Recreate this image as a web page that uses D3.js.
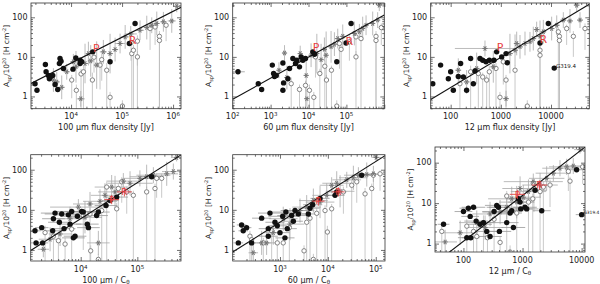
<!DOCTYPE html>
<html>
<head>
<meta charset="utf-8">
<script src="https://cdn.jsdelivr.net/npm/d3@7/dist/d3.min.js"></script>
<style>
  body { margin: 0; background: #fff; }
  text { font-family: "DejaVu Sans", sans-serif; fill: #222; }
</style>
</head>
<body>
<svg id="fig" width="600" height="284"></svg>
<script>
// data [[[1
// filled = [x, y, dxDex], open = [x, y, lo, hi], stars = [x, y, dxDex, dyDex]
const p1Filled = [[1970,2.1,0],[2150,1.43,0],[3140,6.4,0],[3240,4.2,0],[3600,3.4,0],[3760,2.8,0],[3990,3.2,0],[4380,3.4,0],[4860,2.0,0],[5480,1.5,0],[5910,6.8,0],[6080,9.1,0],[6370,7.8,0],[7080,5.1,0],[10900,4.9,0],[12400,9.4,0],[15000,6.8,0],[15000,8.2,0],[16200,7.5,0],[26600,13.4,0],[58200,7.5,0],[139000,21.8,0],[180000,70,0]]
const p1Open = [[10300,2.6,0.9,3.5],[12700,1.43,0.3,2],[15700,3.7,0.3,5],[17500,4.2,0.3,6],[26200,2.6,0.3,4],[28200,9.8,4,14],[37000,6.2,1.5,9],[39900,8.5,2.5,12],[50000,4.6,0.3,7],[58200,0.95,0.3,1.3],[101600,0.57,0.3,0.8],[155000,12.1,0.3,16],[167000,14.7,0.3,20],[200000,10,0.3,14],[200000,25,6,35],[354000,52,15,70],[444000,57,20,75],[540000,33,0.3,45],[540000,26,0.3,40],[730000,63,25,80],[150000,23,8,30]]
const p1Stars = [[5240,2.33,0.06,0.25],[6560,1.7,0.06,0.3],[8220,4.2,0.06,0.2],[11100,7.5,0.06,0.2],[15500,0.87,0.08,0.2],[18800,6.8,0.06,0.5],[21900,12.1,0.05,0.3],[24300,7.9,0.06,0.4],[31800,6.2,0.06,0.6],[43000,13.4,0.07,0.3],[58200,12.1,0.06,0.5],[73000,15.3,0.06,0.3],[91400,21.8,0.1,0.25],[115000,32,0.08,0.3],[148000,38,0.12,0.2],[225000,47,0.08,0.25],[305000,55,0.06,0.3],[382000,63,0.06,0.2],[479000,70,0.06,0.3],[646000,77,0.06,0.25],[942000,81,0.08,0.3],[1180000,190,0.06,0.15],[12500,5.6,0.06,0.4],[4510,2.6,0.05,0.3]]
const p1Red = [[31400,16.3],[160000,26]]

const p2Filled = [[138,4.2,0.18],[473,2.1,0],[580,1.5,0],[1110,6.2,0],[1200,3.8,0],[1270,3.2,0],[1410,3.4,0],[2110,7.0,0],[2200,2.2,0],[2110,1.43,0],[2860,2.8,0],[3160,5.1,0],[3870,9.1,0],[4550,6.8,0],[4930,8.2,0],[5790,5.6,0],[6410,10,0],[7100,8.2,0],[8340,9.1,0],[13000,13.4,0],[14400,11.7,0],[55700,7.5,0],[98000,22.5,0],[133000,70,0]]
const p2Open = [[3500,2.1,0.3,3],[5790,1.5,0.3,2],[8340,1.9,0.3,2.5],[10600,1.43,0.3,2],[15300,10,3,14],[13800,0.95,0.3,1.3],[19900,3.8,0.3,5],[26900,5.8,0.3,8],[29800,2.6,0.3,3.5],[40300,4.6,0.3,6],[55700,0.57,0.3,0.8],[65500,21.8,5,30],[72500,15.5,0.3,20],[120000,24,8,35],[179000,32,10,45],[243000,29,0.3,40],[179000,10,0.3,14],[604000,33,0.3,45],[604000,26,0.3,35],[834000,55,20,70]]
const p2Stars = [[1660,4.6,0.06,0.2],[2690,3.0,0.06,0.3],[6040,12.1,0.06,0.2],[8690,3.4,0.06,0.4],[9040,0.88,0.06,0.2],[11700,11,0.06,0.3],[16600,12.1,0.06,0.5],[21500,8.5,0.06,0.4],[26300,15.5,0.06,0.3],[29200,11,0.06,0.6],[39400,17.9,0.07,0.4],[48300,21,0.08,0.3],[59100,29,0.08,0.25],[80100,33,0.06,0.3],[162000,39,0.06,0.3],[220000,43,0.06,0.2],[269000,52,0.06,0.3],[330000,63,0.06,0.25],[494000,70,0.06,0.3],[668000,85,0.06,0.2],[738000,203,0.06,0.15],[2330,12.5,0.06,0.2]]
const p2Red = [[15900,17.9],[120000,25]]

const p3Filled = [[44,2.1,0],[63,6.2,0],[90,2.8,0],[100,4.2,0],[113,1.43,0],[142,3.2,0],[158,6.8,0],[179,3.1,0],[208,1.43,0],[250,9.1,0],[283,2.1,0],[306,4.4,0],[384,9.1,0],[435,8.2,0],[506,7.5,0],[590,8.2,0],[731,8.2,0],[826,13.4,0],[1040,10,0],[1270,12.1,0],[1350,7.1,0],[6040,22.5,0],[8850,70,0],[11600,5.2,0]]
const p3Open = [[153,2.1,0.3,3],[250,4.2,0.3,6],[356,3.8,0.3,5],[435,3.1,0.3,4],[522,2.6,0.3,3.5],[590,4.2,0.3,6],[961,0.95,0.3,1.3],[801,5.1,0.3,7],[1120,7.5,2,10],[1270,2.6,0.3,3.5],[1920,4.6,0.3,6],[3370,0.57,0.3,0.8],[6040,14.7,0.3,20],[6040,11,0.3,15],[14700,33,0.3,45],[14700,26,0.3,35],[27900,33,10,45],[47600,52,15,70],[20500,52,20,65],[14000,43,0.3,55]]
const p3Stars = [[142,4.6,0.06,0.3],[208,2.33,0.06,0.3],[330,5.1,0.06,0.4],[483,16.3,0.6,0.2],[708,5.6,0.06,0.4],[1270,0.88,0.06,0.2],[1520,12.1,0.06,0.5],[1920,14.7,0.06,0.4],[2410,17.9,0.06,0.3],[3030,21.8,0.06,0.3],[3810,24,0.06,0.25],[4440,29,0.06,0.3],[5180,49,0.06,0.2],[7030,43,0.06,0.3],[10300,52,0.06,0.3],[13000,63,0.06,0.25],[17600,85,0.06,0.2],[23900,81,0.06,0.3],[37900,85,0.06,0.2],[32500,203,0.06,0.15],[2070,21.8,0.06,0.3],[6040,33,0.06,0.4]]
const p3Red = [[961,17.9],[7030,28]]

const p4Filled = [[1560,3.0,0.1],[1630,1.5,0.1],[2050,3.6,0.12],[2130,1.5,0.1],[3300,6.0,0.2],[3520,8.3,0.25],[3200,3.0,0.15],[4200,4.9,0.2],[4620,7.9,0.3],[5080,3.4,0.2],[6050,7.5,0.25],[6480,4.4,0.2],[6930,9.1,0.3],[7430,2.0,0.2],[7950,2.2,0.2],[8740,6.9,0.25],[10400,9.1,0.3],[11100,8.8,0.25],[13100,4.4,0.2],[13700,3.6,0.2],[19100,7.2,0.2],[20500,8.8,0.2],[28000,12.8,0.2],[43200,20.8,0.2],[179000,67,0.2],[33000,17,0.15]]
const p4Open = [[2350,2.7,0.3,4],[3300,2.2,0.3,3],[4040,1.7,0.3,2.5],[5300,1.4,0.3,2],[6930,3.3,0.3,5],[11100,7.2,1,10],[14600,7.9,0.3,11],[15000,0.95,0.3,1.3],[20500,0.58,0.3,0.8],[23500,9.6,0.3,13],[28800,37,0.3,50],[43200,10.6,0.3,15],[46200,34,10,45],[53000,50,15,65],[85000,23,0.3,30],[146000,28,0.3,38],[205000,34,0.3,45],[269000,61,20,80],[219000,61,20,80],[64900,28,8,38]]
const p4Stars = [[2190,1.04,0.1,0.2],[2880,1.85,0.2,0.3],[4320,2.5,0.2,0.3],[6480,6.0,0.3,0.3],[9100,11.7,0.5,0.2],[11900,6.5,0.3,0.4],[14600,14,0.3,0.3],[21900,16.3,0.3,0.3],[26800,23,0.25,0.3],[35200,37,0.3,0.3],[40400,28,0.3,0.4],[56600,52,0.3,0.2],[74300,46,0.4,0.3],[111000,61,0.3,0.2],[146000,67,0.3,0.3],[192000,73,0.3,0.2],[330000,79,0.2,0.3],[432000,90,0.2,0.2],[494000,203,0.1,0.1],[20500,1.5,0.2,0.3]]
const p4Red = [[35200,18],[59000,28]]

const p5Filled = [[135,1.5,0.1],[158,4.2,0.1],[171,3.0,0.1],[201,3.6,0.1],[256,1.5,0.1],[414,6.2,0.2],[570,3.4,0.2],[570,2.2,0.2],[618,8.3,0.25],[786,4.9,0.2],[879,4.0,0.2],[1000,2.7,0.2],[1140,6.9,0.3],[1270,2.0,0.2],[1330,8.8,0.3],[1420,3.4,0.2],[1750,7.2,0.3],[1900,5.2,0.2],[2060,9.6,0.3],[2420,7.9,0.25],[3910,7.9,0.2],[4240,11,0.2],[4820,13.4,0.2],[6860,19.3,0.2],[14100,23,0.2],[15300,28,0.2],[50900,73,0.2]]
const p5Open = [[236,2.2,0.3,3],[256,1.8,0.3,2.5],[449,1.5,0.3,2],[670,3.0,0.3,4],[879,1.5,0.3,2],[1170,1.5,0.3,2],[1570,3.6,0.3,5],[3180,0.95,0.3,1.3],[3610,4.9,0.3,7],[4240,6.2,0.3,8],[4980,0.58,0.3,0.8],[5850,8.2,0.3,11],[8730,9.6,0.3,13],[9770,2.8,0.3,4],[12000,10.6,0.3,14],[21100,28,8,38],[31500,41,0.3,55],[40100,50,15,65],[59800,25,0.3,35],[82400,34,0.3,45],[89300,73,30,90],[123000,79,30,95]]
const p5Stars = [[277,0.85,0.1,0.2],[414,1.5,0.2,0.3],[726,2.7,0.2,0.3],[1170,6.0,0.3,0.3],[1620,4.4,0.3,0.4],[2620,9.6,0.3,0.3],[3610,11.7,0.3,0.3],[4980,17,0.3,0.3],[6860,15.6,0.3,0.4],[9460,23,0.3,0.3],[12000,41,0.25,0.2],[15300,46,0.3,0.3],[18000,29,0.3,0.4],[24800,56,0.3,0.2],[34100,63,0.3,0.3],[43400,73,0.3,0.2],[64900,76,0.25,0.3],[89300,79,0.2,0.2],[102000,203,0.1,0.1],[526,1.5,0.2,0.3]]
const p5Red = [[6320,16.5],[16600,28]]

const p6Filled = [[46,3.0,0.1],[100,6.2,0.15],[121,7.5,0.15],[130,4.7,0.15],[148,7.9,0.2],[114,1.4,0.15],[133,1.4,0.15],[164,3.6,0.2],[191,3.0,0.2],[218,3.3,0.2],[248,2.0,0.2],[282,1.5,0.2],[330,6.2,0.2],[366,8.8,0.2],[391,7.9,0.2],[406,2.0,0.2],[540,3.3,0.2],[615,5.7,0.2],[656,6.5,0.2],[700,2.5,0.2],[851,12.8,0.2],[908,10.6,0.2],[931,7.2,0.2],[1100,7.9,0.2],[1175,7.2,0.2],[2110,6.5,0.15],[1630,20.8,0.2],[8220,67,0.2],[10000,5.2,0.1]]
const p6Open = [[43,2.0,0.3,3],[114,2.7,0.3,4],[148,2.0,0.3,3],[168,1.5,0.3,2],[218,3.3,0.3,5],[255,1.4,0.3,2],[330,4.0,0.3,6],[417,1.07,0.3,1.5],[540,15,0.3,20],[615,0.62,0.3,0.9],[797,5.7,0.3,8],[1260,10.6,0.3,14],[1490,12.8,0.3,17],[1560,23,6,30],[1520,31,10,40],[2250,25,0.3,34],[2920,28,8,38],[5960,61,20,80],[6360,35,0.3,45],[10400,79,30,95],[1980,19.3,0.3,26]]
const p6Stars = [[49,1.1,0.2,0.3],[88,1.85,0.3,0.3],[168,3.3,0.3,0.3],[232,2.5,0.3,0.3],[282,5.4,0.3,0.3],[417,6.0,0.3,0.3],[540,7.9,0.3,0.3],[656,12.8,0.4,0.3],[797,10.6,0.3,0.4],[1030,14,0.3,0.3],[1260,19.3,0.3,0.3],[1520,34,0.5,0.2],[1980,28,0.3,0.3],[2560,41,0.3,0.3],[3320,55,0.3,0.2],[4300,73,0.3,0.2],[5580,79,0.3,0.2],[7220,83,0.2,0.2],[9370,210,0.1,0.1],[908,23,0.3,0.3]]
const p6Red = [[818,16.5],[1930,28]]

// fitted lines: log y = a + b log x
const fitA = [-1.773, -1.135, -1.30, -2.81, -1.574, -2.204]
const fitB = [0.654, 0.5325, 0.762, 0.8975, 0.756, 1.131]

const redLabels = ['P', 'R']
const yTicks = [1, 10, 100]
const xTicks = [[1e4, 1e5, 1e6], [1e2, 1e3, 1e4, 1e5], [100, 1000, 10000], [1e4, 1e5], [1e3, 1e4, 1e5], [100, 1000, 10000]]
const xTitles = ['100', '60', '12', '100', '60', '12']
const noteName = 'G319.4'

// layout [[[1
const panels = [
  { box: [31, 3, 150, 105.7], xDom: [1640, 1.43e6], yDom: [0.49, 230], pow: true, ratio: false, filled: p1Filled, open: p1Open, stars: p1Stars, red: p1Red },
  { box: [232.7, 3, 151.6, 105.7], xDom: [100, 1e6], yDom: [0.49, 230], pow: true, ratio: false, filled: p2Filled, open: p2Open, stars: p2Stars, red: p2Red },
  { box: [430.7, 3, 158.6, 105.7], xDom: [40, 58000], yDom: [0.49, 230], pow: false, ratio: false, filled: p3Filled, open: p3Open, stars: p3Stars, red: p3Red, note: 23, noteSize: 5.5 },
  { box: [30.7, 154.7, 150.3, 106.3], xDom: [1310, 5.9e5], yDom: [0.53, 237], pow: true, ratio: true, filled: p4Filled, open: p4Open, stars: p4Stars, red: p4Red },
  { box: [232.7, 154.7, 152.3, 106.3], xDom: [103, 1.56e5], yDom: [0.53, 237], pow: true, ratio: true, filled: p5Filled, open: p5Open, stars: p5Stars, red: p5Red },
  { box: [435, 147, 150, 105], xDom: [33, 11400], yDom: [0.62, 244], pow: false, ratio: true, filled: p6Filled, open: p6Open, stars: p6Stars, red: p6Red, note: 28, noteSize: 4.4 }
]

const svg = d3.select('#fig')
const defs = svg.append('defs')
const isPow = v => Math.abs(Math.log10(v) - Math.round(Math.log10(v))) < 1e-9

panels.forEach((p, i) => {
  const [bx, by, bw, bh] = p.box
  const x = d3.scaleLog().domain(p.xDom).range([bx, bx + bw])
  const y = d3.scaleLog().domain(p.yDom).range([by + bh, by])
  const g = svg.append('g')

  defs.append('clipPath').attr('id', 'clip' + i)
    .append('rect').attr('x', bx).attr('y', by).attr('width', bw).attr('height', bh)
  const plot = g.append('g').attr('clip-path', `url(#clip${i})`)

  // error bars
  plot.selectAll('.eo').data(p.open).enter().append('line')
    .attr('x1', d => x(d[0])).attr('x2', d => x(d[0]))
    .attr('y1', d => y(d[2])).attr('y2', d => y(d[3]))
    .attr('stroke', '#bbb').attr('stroke-width', 0.8)
  plot.selectAll('.esh').data(p.stars).enter().append('line')
    .attr('x1', d => x(d[0] * Math.pow(10, -d[2]))).attr('x2', d => x(d[0] * Math.pow(10, d[2])))
    .attr('y1', d => y(d[1])).attr('y2', d => y(d[1]))
    .attr('stroke', '#aaa').attr('stroke-width', 0.8)
  plot.selectAll('.esv').data(p.stars).enter().append('line')
    .attr('x1', d => x(d[0])).attr('x2', d => x(d[0]))
    .attr('y1', d => y(d[1] * Math.pow(10, -d[3]))).attr('y2', d => y(d[1] * Math.pow(10, d[3])))
    .attr('stroke', '#aaa').attr('stroke-width', 0.8)
  plot.selectAll('.ef').data(p.filled.filter(d => d[2] > 0)).enter().append('line')
    .attr('x1', d => x(d[0] * Math.pow(10, -d[2]))).attr('x2', d => x(d[0] * Math.pow(10, d[2])))
    .attr('y1', d => y(d[1])).attr('y2', d => y(d[1]))
    .attr('stroke', '#999').attr('stroke-width', 0.8)

  // open circles
  plot.selectAll('.oc').data(p.open).enter().append('circle')
    .attr('cx', d => x(d[0])).attr('cy', d => y(d[1])).attr('r', 2.2)
    .attr('fill', '#fff').attr('stroke', '#777').attr('stroke-width', 0.9)

  // stars (asterisks)
  const star = plot.selectAll('.st').data(p.stars).enter().append('g')
    .attr('transform', d => `translate(${x(d[0])},${y(d[1])})`)
  ;[0, 60, 120].forEach(a => {
    star.append('line').attr('x1', -2.6).attr('x2', 2.6).attr('y1', 0).attr('y2', 0)
      .attr('transform', `rotate(${a})`).attr('stroke', '#777').attr('stroke-width', 1)
  })

  // filled circles
  plot.selectAll('.fc').data(p.filled).enter().append('circle')
    .attr('cx', d => x(d[0])).attr('cy', d => y(d[1])).attr('r', 2.7)
    .attr('fill', '#111')

  // fit line
  const lx = p.xDom
  plot.append('line')
    .attr('x1', x(lx[0])).attr('y1', y(Math.pow(10, fitA[i] + fitB[i] * Math.log10(lx[0]))))
    .attr('x2', x(lx[1])).attr('y2', y(Math.pow(10, fitA[i] + fitB[i] * Math.log10(lx[1]))))
    .attr('stroke', '#111').attr('stroke-width', 1.1)

  // red P / R
  if (p.ratio) {
    plot.selectAll('.rh').data(p.red).enter().append('line')
      .attr('x1', d => x(d[0] / 1.35)).attr('x2', d => x(d[0] * 1.35))
      .attr('y1', d => y(d[1])).attr('y2', d => y(d[1]))
      .attr('stroke', '#e04040').attr('stroke-width', 0.9)
    plot.selectAll('.rv').data(p.red).enter().append('line')
      .attr('x1', d => x(d[0])).attr('x2', d => x(d[0]))
      .attr('y1', d => y(d[1] / 1.3)).attr('y2', d => y(d[1] * 1.3))
      .attr('stroke', '#e04040').attr('stroke-width', 0.9)
  }
  plot.selectAll('.rl').data(p.red).enter().append('text')
    .attr('x', d => x(d[0])).attr('y', d => y(d[1]))
    .attr('text-anchor', 'middle').attr('dy', '0.36em')
    .style('font-size', p.ratio ? '9px' : '11px').style('fill', '#e8403f')
    .text((d, k) => redLabels[k])

  // note on G319.4
  if (p.note !== undefined) {
    const d = p.filled[p.note]
    g.append('text').attr('x', x(d[0]) + 1.8).attr('y', y(d[1]) - 0.5)
      .style('font-size', p.noteSize + 'px').style('fill', '#111').text(noteName)
  }

  // box and ticks
  g.append('rect').attr('x', bx).attr('y', by).attr('width', bw).attr('height', bh)
    .attr('fill', 'none').attr('stroke', '#333').attr('stroke-width', 0.8)
  const xMaj = x.ticks().filter(isPow), xMin = x.ticks().filter(v => !isPow(v))
  const yMaj = y.ticks().filter(isPow), yMin = y.ticks().filter(v => !isPow(v))
  const tickAxis = (axis, sel, vals, len, tr) => {
    sel.append('g').attr('transform', tr)
      .call(axis.tickValues(vals).tickSize(-len).tickFormat(''))
      .call(a => a.select('.domain').remove())
      .call(a => a.selectAll('line').attr('stroke', '#333').attr('stroke-width', 0.7))
  }
  tickAxis(d3.axisBottom(x), g, xMaj, 4, `translate(0,${by + bh})`)
  tickAxis(d3.axisBottom(x), g, xMin, 2, `translate(0,${by + bh})`)
  tickAxis(d3.axisTop(x), g, xMaj, 4, `translate(0,${by})`)
  tickAxis(d3.axisTop(x), g, xMin, 2, `translate(0,${by})`)
  tickAxis(d3.axisLeft(y), g, yMaj, 4, `translate(${bx},0)`)
  tickAxis(d3.axisLeft(y), g, yMin, 2, `translate(${bx},0)`)
  tickAxis(d3.axisRight(y), g, yMaj, 4, `translate(${bx + bw},0)`)
  tickAxis(d3.axisRight(y), g, yMin, 2, `translate(${bx + bw},0)`)

  // tick labels
  const xl = g.selectAll('.xl').data(xTicks[i]).enter().append('text')
    .attr('x', d => x(d)).attr('y', by + bh + 10.5)
    .attr('text-anchor', 'middle').style('font-size', '8px')
  if (p.pow) {
    xl.text('10').append('tspan').attr('dy', -3).style('font-size', '5.5px')
      .text(d => Math.round(Math.log10(d)))
  } else {
    xl.text(d => d3.format('d')(d))
  }
  g.selectAll('.yl').data(yTicks).enter().append('text')
    .attr('x', bx - 3.5).attr('y', d => y(d)).attr('dy', '0.35em')
    .attr('text-anchor', 'end').style('font-size', '8px')
    .text(d => d)

  // axis titles
  const xt = g.append('text').attr('x', bx + bw / 2).attr('y', by + bh + 21.5)
    .attr('text-anchor', 'middle').style('font-size', '8px')
  xt.append('tspan').text(xTitles[i] + ' \u03bcm ' + (p.ratio ? '/ C' : 'flux density [Jy]'))
  if (p.ratio) xt.append('tspan').attr('dy', 1.8).style('font-size', '5.5px').text('\u03b8')

  const yt = g.append('text')
    .attr('transform', `translate(${bx - 22},${by + bh / 2}) rotate(-90)`)
    .attr('text-anchor', 'middle').style('font-size', '7.5px')
  yt.append('tspan').text('A')
  yt.append('tspan').attr('dy', 1.8).style('font-size', '5px').text('sp')
  yt.append('tspan').attr('dy', -1.8).text('/10')
  yt.append('tspan').attr('dy', -3).style('font-size', '5px').text('20')
  yt.append('tspan').attr('dy', 3).text(' [H cm')
  yt.append('tspan').attr('dy', -3).style('font-size', '5px').text('-2')
  yt.append('tspan').attr('dy', 3).text(']')
})
</script>
</body>
</html>
